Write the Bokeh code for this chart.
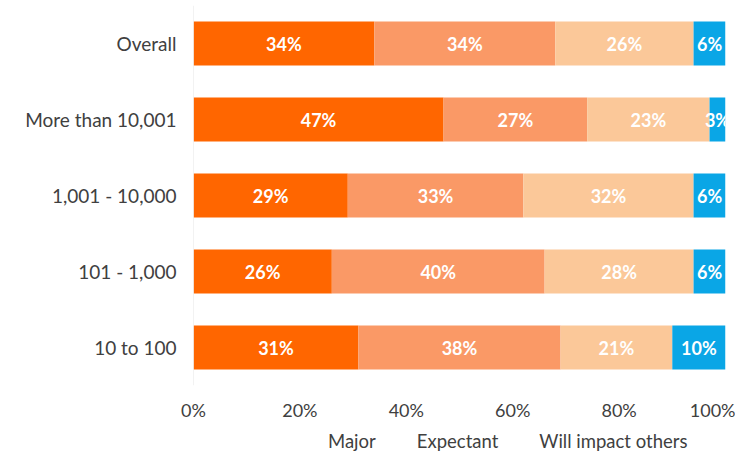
from bokeh.plotting import figure
from bokeh.layouts import column
from bokeh.models import ColumnDataSource, FactorRange, Legend, LegendItem, FixedTicker, Span, Range1d
from bokeh.embed import file_html
from bokeh.resources import INLINE
from bokeh.core.properties import value

categories = ["Overall", "More than 10,001", "1,001 - 10,000", "101 - 1,000", "10 to 100"]
series = ["Major", "Expectant", "Will impact others", "Over-hyped"]
major = [34, 47, 29, 26, 31]
expectant = [34, 27, 33, 40, 38]
will_impact = [26, 23, 32, 28, 21]
over_hyped = [6, 3, 6, 6, 10]
colors = ["#FF6600", "#FA9966", "#FBC899", "#0AA6E6"]
x_ticks = [0, 20, 40, 60, 80, 100]
x_tick_labels = ["0%", "20%", "40%", "60%", "80%", "100%"]

FONT = "Lato"
TXT = "#404040"

factors = list(reversed(categories))
p = figure(frame_width=532, frame_height=380, y_range=FactorRange(factors=factors),
           x_range=(0, 100), output_backend="svg", toolbar_location=None,
           min_border_left=193, min_border_right=10, min_border_top=5, min_border_bottom=0)

vals = [major, expectant, will_impact, over_hyped]
left = [0] * len(categories)
for name, v, c in zip(series, vals, colors):
    right = [l + x for l, x in zip(left, v)]
    mid = [(l + r) / 2 for l, r in zip(left, right)]
    src = ColumnDataSource(dict(y=categories, left=left, right=right, mid=mid,
                                lab=[f"{x}%" for x in v]))
    p.hbar(y="y", left="left", right="right", height=0.58, source=src,
           fill_color=c, line_color=None)
    p.text(x="mid", y="y", text="lab", source=src, text_align="center",
           text_baseline="middle", text_color="white", text_font=value(FONT),
           text_font_style="bold", text_font_size="18px")
    left = right

p.xgrid.visible = False
p.ygrid.visible = False
p.outline_line_color = None
p.xaxis.ticker = FixedTicker(ticks=x_ticks)
p.xaxis.major_label_overrides = {t: l for t, l in zip(x_ticks, x_tick_labels)}
for ax in (p.xaxis, p.yaxis):
    ax.axis_line_color = None
    ax.major_tick_line_color = None
    ax.minor_tick_line_color = None
    ax.major_tick_out = 0
    ax.major_tick_in = 0
    ax.minor_tick_out = 0
    ax.minor_tick_in = 0
    ax.major_label_text_font = FONT
    ax.major_label_text_color = TXT
p.xaxis.major_label_text_font_size = "18px"
p.yaxis.major_label_text_font_size = "19px"
p.xaxis.major_label_standoff = 13
p.yaxis.major_label_standoff = 17
p.xaxis.axis_label_standoff = 0

p.add_layout(Span(location=0, dimension="height", line_color="#E6E6E6", line_width=1))

# legend in its own strip below the chart
leg = figure(width=735, height=36, x_range=Range1d(0, 1), y_range=Range1d(0, 1),
             output_backend="svg", toolbar_location=None,
             x_axis_location=None, y_axis_location=None,
             min_border_left=0, min_border_right=0, min_border_top=0, min_border_bottom=0)
leg.xgrid.visible = False
leg.ygrid.visible = False
leg.outline_line_color = None
items = []
for name, c in zip(series, colors):
    r = leg.hbar(y=[], left=[], right=[], height=0.5, fill_color=c, line_color=None)
    items.append(LegendItem(label=name, renderers=[r]))
legend = Legend(items=items, orientation="horizontal", location=(120, 7),
                label_text_font=FONT, label_text_font_size="18.5px", label_text_color=TXT,
                glyph_width=10, glyph_height=10, label_standoff=5, spacing=26,
                border_line_color=None, background_fill_alpha=0, padding=0, margin=0)
leg.add_layout(legend, "center")

layout = column(p, leg, spacing=0)
open("out.html", "w").write(file_html(layout, INLINE))
